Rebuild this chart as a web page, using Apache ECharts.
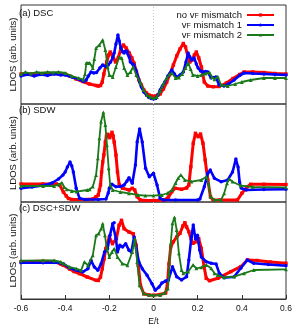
<!DOCTYPE html>
<html><head><meta charset="utf-8">
<script src="https://cdn.jsdelivr.net/npm/echarts@6/dist/echarts.min.js"></script>
<style>html,body{margin:0;padding:0;background:#fff}#c{width:299px;height:332px}</style>
</head><body><div id="c"></div>
<script>
// Panel labels, legend names, x ticks
const panelLabels = ['(a) DSC', '(b) SDW', '(c) DSC+SDW'];
const seriesNames = ['no vF mismatch', 'vF mismatch 1', 'vF mismatch 2'];
const xTicks = [-0.6, -0.4, -0.2, 0, 0.2, 0.4, 0.6];

// Panel (a) DSC  [E/t, LDOS]
const aRed = [[-0.6,30],[-0.55,30],[-0.5,30.5],[-0.45,30.5],[-0.4,30],[-0.38,28],[-0.35,25],[-0.32,22.5],[-0.29,20],[-0.26,18.5],[-0.25,18],[-0.24,18.5],[-0.232,22],[-0.225,30],[-0.212,42],[-0.203,49],[-0.196,52],[-0.185,48],[-0.172,42],[-0.16,46],[-0.148,55],[-0.136,59],[-0.124,56],[-0.11,51],[-0.098,46],[-0.088,40.7],[-0.077,32],[-0.066,24],[-0.055,19],[-0.044,14],[-0.032,11],[-0.021,9],[-0.01,8],[0,7.5],[0.01,8],[0.02,9],[0.03,10],[0.045,15],[0.06,22],[0.075,30],[0.09,39],[0.105,48],[0.12,55],[0.135,60.5],[0.145,57],[0.155,48],[0.164,42],[0.175,44],[0.185,49],[0.194,52],[0.205,46],[0.217,37],[0.23,22],[0.246,18],[0.27,17.3],[0.297,17.5],[0.33,21],[0.36,25.5],[0.39,29.5],[0.41,32],[0.45,32],[0.5,31.5],[0.55,30.5],[0.6,30]];
const aBlue = [[-0.6,28],[-0.57,29.5],[-0.54,28],[-0.51,29.5],[-0.48,28.5],[-0.45,30],[-0.42,29],[-0.4,29],[-0.37,27],[-0.34,25],[-0.315,22.5],[-0.305,24],[-0.295,28],[-0.283,32],[-0.27,31],[-0.258,31.5],[-0.243,36],[-0.23,39],[-0.216,37.5],[-0.205,39],[-0.194,42],[-0.185,46],[-0.178,51],[-0.17,60],[-0.161,69],[-0.155,63],[-0.148,56],[-0.14,52],[-0.133,51],[-0.125,53],[-0.118,52],[-0.11,47],[-0.105,42],[-0.095,40],[-0.088,39],[-0.08,34],[-0.072,28],[-0.063,22],[-0.055,17],[-0.044,12],[-0.032,9],[-0.021,6.5],[-0.01,5.5],[0,5],[0.01,5.5],[0.02,9],[0.03,14],[0.04,18],[0.051,22],[0.065,28],[0.083,34],[0.095,30],[0.105,27],[0.12,29],[0.135,32],[0.147,42],[0.157,51],[0.165,47],[0.172,44],[0.184,46],[0.194,40],[0.202,36],[0.213,33],[0.224,32],[0.236,32.5],[0.246,32],[0.261,26],[0.272,26.5],[0.283,27],[0.297,19],[0.319,18],[0.34,20],[0.365,24],[0.39,28.5],[0.41,31],[0.45,30.5],[0.5,30],[0.55,29.5],[0.6,29]];
const aGreen = [[-0.6,30],[-0.58,32],[-0.555,30.5],[-0.53,32],[-0.505,31],[-0.48,32],[-0.455,31.5],[-0.43,32],[-0.4,31],[-0.37,28],[-0.34,26],[-0.318,24.5],[-0.31,30],[-0.304,41],[-0.297,41],[-0.289,41],[-0.275,36],[-0.268,45],[-0.26,56],[-0.245,59],[-0.23,64],[-0.218,54],[-0.208,37],[-0.2,29],[-0.185,27],[-0.17,37],[-0.155,47],[-0.144,46],[-0.133,36],[-0.118,29],[-0.104,32],[-0.092,37],[-0.078,29],[-0.059,21],[-0.045,14],[-0.03,9],[-0.015,7],[0,6],[0.015,7],[0.03,13],[0.045,20],[0.06,26],[0.072,29.5],[0.083,31],[0.1,26],[0.115,26.5],[0.13,30],[0.145,36],[0.157,41],[0.168,35],[0.178,29],[0.2,28],[0.216,29],[0.235,30.5],[0.254,31.3],[0.265,27],[0.276,24.7],[0.291,27.3],[0.306,19],[0.336,18],[0.37,20],[0.4,22],[0.44,24],[0.5,26],[0.55,26],[0.6,26]];

// Panel (b) SDW
const bRed = [[-0.6,18],[-0.5,18],[-0.44,18],[-0.425,17],[-0.408,10],[-0.395,6],[-0.385,3.5],[-0.37,2.5],[-0.3,2.5],[-0.275,3],[-0.26,5.3],[-0.25,7],[-0.245,12],[-0.24,17],[-0.235,30],[-0.23,40],[-0.225,47],[-0.218,60],[-0.213,66],[-0.208,67.7],[-0.203,66],[-0.198,64.3],[-0.193,67],[-0.188,69.7],[-0.183,66],[-0.178,60],[-0.17,47],[-0.163,30],[-0.155,17],[-0.14,13.7],[-0.11,12],[-0.096,13.7],[-0.085,12],[-0.074,5.3],[-0.06,2],[-0.04,1.5],[0,1.5],[0.05,2],[0.068,5],[0.083,10.3],[0.098,13.7],[0.127,12.7],[0.15,14],[0.16,17],[0.169,35.3],[0.18,58.7],[0.19,68.7],[0.202,65.3],[0.213,68],[0.224,58.7],[0.234,42],[0.246,22],[0.258,5.3],[0.27,2],[0.3,2],[0.38,2],[0.4,8.7],[0.425,15.3],[0.44,17.7],[0.5,17.7],[0.6,17.5]];
const bBlue = [[-0.6,13.7],[-0.55,15],[-0.5,16.5],[-0.46,19],[-0.43,23],[-0.41,27],[-0.4,30],[-0.39,35],[-0.378,40],[-0.37,36],[-0.363,30],[-0.35,13.7],[-0.335,3.7],[-0.31,2.5],[-0.25,2.5],[-0.215,3],[-0.205,9],[-0.2,13.7],[-0.188,17.7],[-0.17,15.3],[-0.15,15.5],[-0.133,17],[-0.12,21],[-0.111,24.3],[-0.096,18.7],[-0.082,37],[-0.074,60],[-0.063,73],[-0.051,60],[-0.036,33.7],[-0.019,25.3],[0,28.7],[0.016,17],[0.03,3.7],[0.045,2],[0.1,2],[0.2,2],[0.21,3],[0.23,15.3],[0.246,28.7],[0.257,32],[0.276,23.7],[0.306,20.3],[0.336,22],[0.358,30],[0.373,43],[0.383,35],[0.39,20],[0.397,14],[0.42,12],[0.5,12.5],[0.6,12.7]];
const bGreen = [[-0.6,16],[-0.5,16],[-0.45,16],[-0.43,17.5],[-0.415,19.3],[-0.405,15],[-0.393,12.7],[-0.37,11],[-0.348,10.3],[-0.3,12],[-0.289,12.7],[-0.275,15.3],[-0.26,27],[-0.252,43.7],[-0.245,63.7],[-0.2375,80.3],[-0.227,89.7],[-0.218,77],[-0.211,57],[-0.203,33.7],[-0.196,17],[-0.185,12],[-0.15,10],[-0.111,8.7],[-0.07,7],[-0.037,6.3],[0,6.3],[0.038,7],[0.065,9],[0.083,12],[0.1,19],[0.112,24],[0.124,27],[0.142,22],[0.172,20.3],[0.2165,22],[0.239,25.3],[0.249,18.7],[0.258,5.3],[0.276,2],[0.306,2],[0.32,8.7],[0.333,18.7],[0.343,23],[0.358,20.3],[0.395,16.3],[0.45,15],[0.6,14.7]];

// Panel (c) DSC+SDW
const cRed = [[-0.6,37.3],[-0.5,37.7],[-0.45,37.5],[-0.42,35],[-0.408,33.7],[-0.38,30],[-0.36,27.5],[-0.335,25.3],[-0.3,22],[-0.26,18.7],[-0.25,18.5],[-0.24,22],[-0.232,30.3],[-0.224,40],[-0.216,50.3],[-0.2,62],[-0.186,55.3],[-0.168,60.3],[-0.156,73.7],[-0.145,78.7],[-0.133,70.3],[-0.111,67],[-0.092,65.3],[-0.078,53.7],[-0.069,33.7],[-0.059,13.7],[-0.044,5.3],[-0.02,4],[0,3.7],[0.03,4.5],[0.055,6],[0.063,15],[0.07,35],[0.078,52],[0.09,57.3],[0.105,62],[0.12,65.7],[0.133,73],[0.142,76.3],[0.15,72],[0.16,67.3],[0.17,60],[0.179,55.7],[0.194,57.3],[0.2045,60.7],[0.2165,50.7],[0.229,32.3],[0.239,20.7],[0.254,18.3],[0.291,20.7],[0.35,27.3],[0.395,32.3],[0.425,39],[0.47,38.5],[0.53,37],[0.6,35.7]];
const cBlue = [[-0.6,36.3],[-0.5,36.3],[-0.45,36.5],[-0.42,36],[-0.408,35.3],[-0.38,31],[-0.35,28.7],[-0.32,27],[-0.297,30.3],[-0.283,38.7],[-0.268,32],[-0.252,28.7],[-0.237,35.3],[-0.222,47],[-0.208,50.3],[-0.197,63.7],[-0.185,75.3],[-0.178,76.3],[-0.17,60.3],[-0.163,47],[-0.152,53.7],[-0.14,52],[-0.126,55.3],[-0.111,48.7],[-0.1,47],[-0.088,62],[-0.078,50.3],[-0.066,37],[-0.051,30.3],[-0.029,23.7],[-0.007,15.3],[0.008,8.7],[0.025,12],[0.038,16],[0.055,18],[0.068,19],[0.086,32.3],[0.105,22.3],[0.127,19],[0.15,22.3],[0.16,39],[0.172,62.3],[0.18,74],[0.19,60],[0.199,63.7],[0.209,49],[0.2165,42],[0.239,37.3],[0.261,35.7],[0.2835,35],[0.298,25.7],[0.32,21.3],[0.365,22.3],[0.395,30.7],[0.425,39],[0.454,35.7],[0.52,34.5],[0.6,33.3]];
const cGreen = [[-0.6,38.3],[-0.5,38.5],[-0.45,38.5],[-0.42,37],[-0.408,35.3],[-0.38,32],[-0.35,30.3],[-0.328,28.7],[-0.313,37],[-0.297,33.7],[-0.275,43.7],[-0.26,63.7],[-0.248,65.3],[-0.237,70.3],[-0.23,75.3],[-0.22,63.7],[-0.211,50.3],[-0.2,42],[-0.188,47],[-0.178,50.3],[-0.163,42],[-0.141,35.3],[-0.118,33.7],[-0.096,47],[-0.084,60.3],[-0.074,37],[-0.063,13.7],[-0.044,5.3],[-0.02,4],[0,3.7],[0.03,4],[0.05,6],[0.065,10.3],[0.07,25],[0.078,55.7],[0.086,75.7],[0.095,81.7],[0.105,69],[0.115,45.7],[0.127,29],[0.135,25.7],[0.157,27.3],[0.179,34],[0.194,30.7],[0.2165,31.7],[0.239,34],[0.261,30.7],[0.276,25.7],[0.291,24],[0.32,21.7],[0.365,22.3],[0.41,25.7],[0.454,29],[0.6,29.7]];

const panelData = [[aRed, aBlue, aGreen], [bRed, bBlue, bGreen], [cRed, cBlue, cGreen]];
const panelMax = [99, 98, 97];

const FONT = 'Liberation Sans, Arial, sans-serif';
const colors = ['#ff0000', '#0000ff', '#1a7a1a'];
const symbols = ['rect', 'circle', 'triangle'];
const widths = [3, 2.6, 1.8];
const sizes = [3.4, 3.4, 3.8];
const gridTops = [5, 104, 202];

const grids = gridTops.map((t, i) => ({left: 17, right: 13, top: t, height: panelMax[i], show: true, borderColor: '#333', borderWidth: 1, backgroundColor: 'transparent'}));
const xAxes = gridTops.map((t, i) => ({
  type: 'value', gridIndex: i, min: -0.6, max: 0.6, interval: 0.2,
  axisLine: {show: i === 2, lineStyle: {color: '#333'}},
  axisTick: {show: i === 2, inside: true, length: 4, lineStyle: {color: '#333'}},
  axisLabel: {show: i === 2, margin: 5, fontSize: 8.5, fontFamily: FONT, color: '#111',
    formatter: v => { const r = Math.round(v * 10) / 10; return xTicks.indexOf(r) >= 0 ? (r === 0 ? '0' : r.toFixed(1)) : ''; }},
  splitLine: {show: false},
  name: i === 2 ? 'E/t' : '', nameLocation: 'middle', nameGap: 18,
  nameTextStyle: {fontSize: 8.5, fontFamily: FONT, color: '#111'}
}));
const yAxes = gridTops.map((t, i) => ({
  type: 'value', gridIndex: i, min: 0, max: panelMax[i],
  axisLine: {show: false}, axisTick: {show: false}, axisLabel: {show: false}, splitLine: {show: false},
  name: 'LDOS (arb. units)', nameLocation: 'middle', nameRotate: 90, nameGap: 3,
  nameTextStyle: {fontSize: 9.5, fontFamily: FONT, color: '#111'}
}));

const series = [];
panelData.forEach((sets, p) => {
  sets.forEach((d, k) => {
    const s = {
      name: seriesNames[k], type: 'line', xAxisIndex: p, yAxisIndex: p,
      data: d, symbol: symbols[k], symbolSize: sizes[k], showSymbol: true,
      color: colors[k], lineStyle: {width: widths[k], color: colors[k]},
      itemStyle: {color: colors[k]}, z: 2 + k, animation: false
    };
    if (k === 0) {
      s.markLine = {silent: true, symbol: 'none', label: {show: false}, animation: false, z: 1,
        lineStyle: {type: [1, 2], color: '#c4c4c4', width: 1}, data: [{xAxis: 0}]};
    }
    series.push(s);
  });
});

const chart = echarts.init(document.getElementById('c'), null, {renderer: 'canvas'});
chart.setOption({
  backgroundColor: '#fff',
  animation: false,
  grid: grids, xAxis: xAxes, yAxis: yAxes,
  title: panelLabels.map((t, i) => ({text: t, left: 19, top: gridTops[i] + [3, 1, 1][i], padding: 0,
    textStyle: {fontSize: 9.5, fontWeight: 'normal', fontFamily: FONT, color: '#111'}})),
  legend: {
    data: seriesNames, orient: 'vertical', right: 24, top: 10, padding: 0, itemGap: 0,
    align: 'right', itemWidth: 27, itemHeight: 4,
    textStyle: {fontSize: 9.5, fontFamily: FONT, color: '#111', lineHeight: 9,
      rich: {n: {fontSize: 9.5, fontFamily: FONT, color: '#111', lineHeight: 9},
             s: {fontSize: 7, fontFamily: FONT, color: '#111', lineHeight: 3, verticalAlign: 'bottom'}}},
    formatter: name => { const i = name.indexOf('vF'); return '{n|' + name.slice(0, i) + 'v}{s|F}{n|' + name.slice(i + 2) + '}'; }
  },
  series: series
});
</script></body></html>
